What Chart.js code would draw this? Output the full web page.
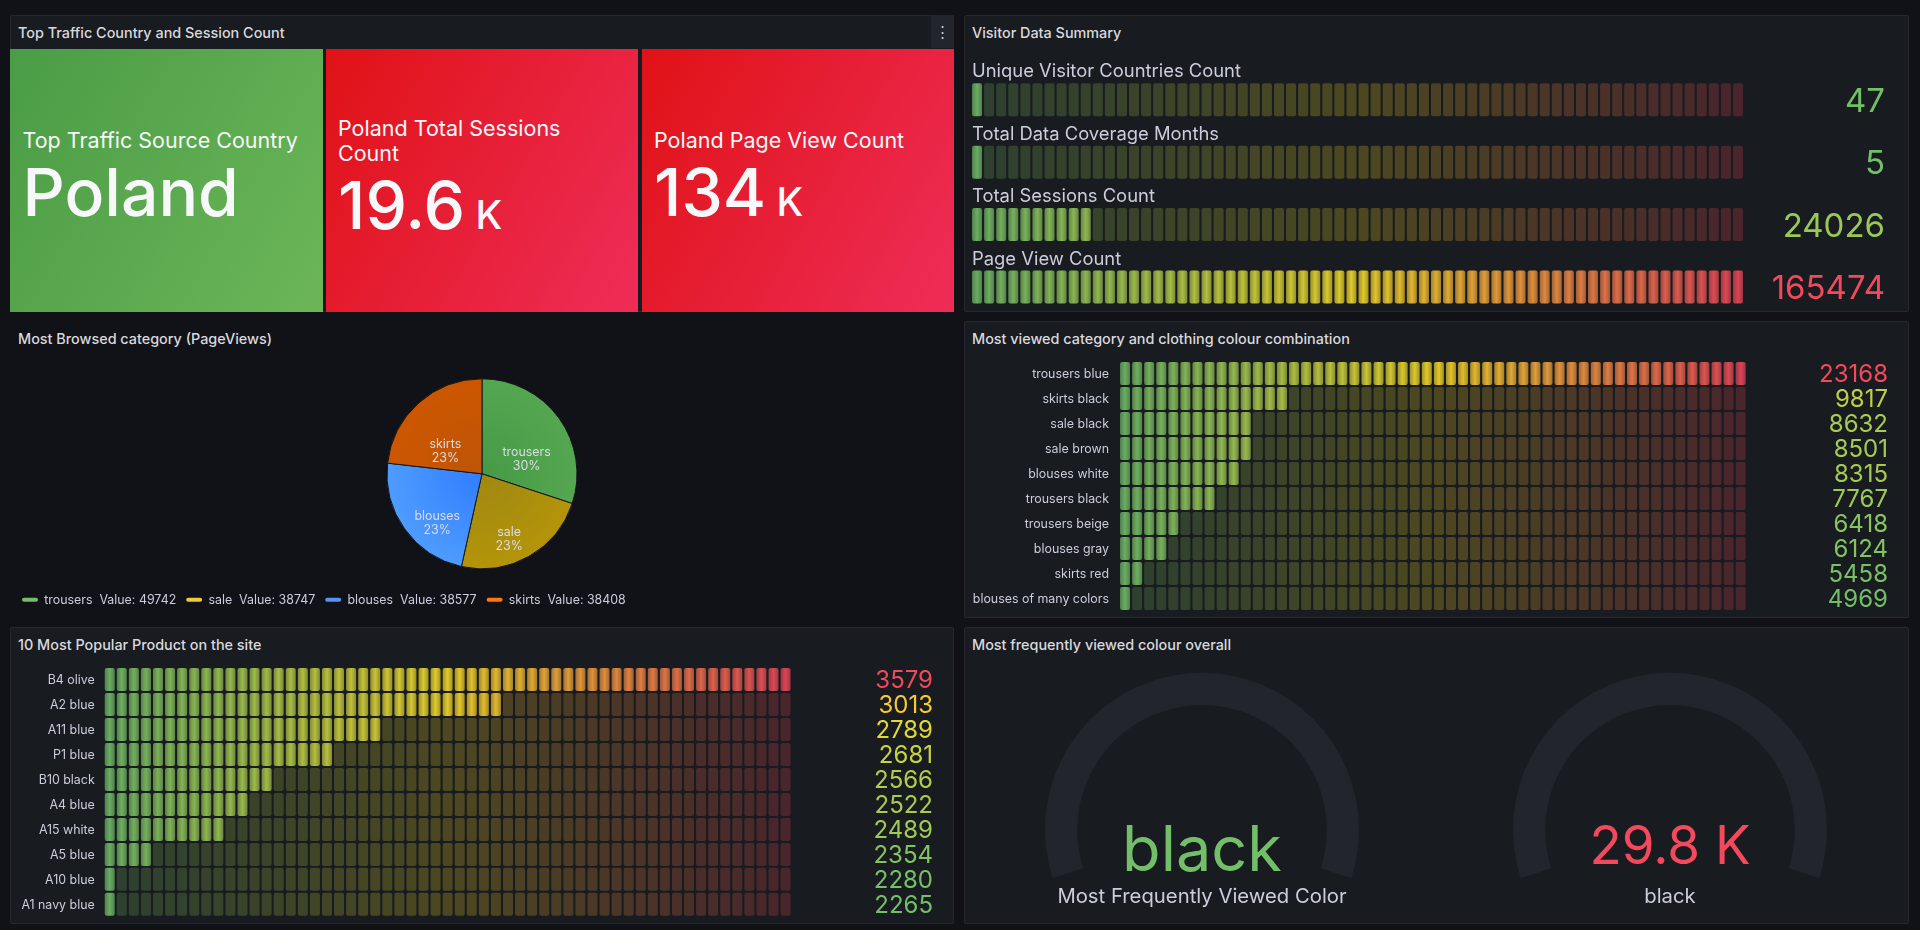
<!DOCTYPE html>
<html>
<head>
<meta charset="utf-8">
<title>Visitor dashboard</title>
<script src="https://cdn.jsdelivr.net/npm/chart.js@4/dist/chart.umd.min.js"></script>
<style>
  html, body { margin: 0; width: 1920px; height: 930px; overflow: hidden; background: #111217; font-family: Inter, sans-serif; color: #ccccdc; }
  .panel { position: absolute; box-sizing: border-box; background: #181b1f; border: 1px solid #26282d; border-radius: 2px; }
  .title { position: absolute; font-size: 14.4px; font-weight: 500; line-height: 0; color: #d8d9de; white-space: nowrap; }
  .tile { position: absolute; top: 48.5px; height: 263.5px; color: #f7f8fa; }
  .green { background: linear-gradient(120deg, #4a9c46, #6cb658); }
  .red { background: linear-gradient(120deg, #e01216, #ee2d58); }
  .tile div { position: absolute; line-height: 0; white-space: nowrap; }
  .name { font-size: 21.5px; }
  .big { font-size: 66px; font-weight: 500; }
  .big span { font-size: 39px; }
  .menu { position: absolute; left: 931px; top: 15px; width: 23px; height: 33px; background: #22252b; color: #ccccdc; text-align: center; font-size: 15px; line-height: 33px; }
  canvas { position: absolute; }
</style>
</head>
<body>
<div class="panel" style="left:10px;top:15px;width:944px;height:297px"></div>
<div class="panel" style="left:964px;top:15px;width:945px;height:297px"></div>
<div class="panel" style="left:964px;top:321px;width:945px;height:297px"></div>
<div class="panel" style="left:10px;top:627px;width:944px;height:297px"></div>
<div class="panel" style="left:964px;top:627px;width:945px;height:297px"></div>

<div class="title" style="left:18px;top:32.5px">Top Traffic Country and Session Count</div>
<div class="title" style="left:972px;top:32.5px">Visitor Data Summary</div>
<div class="title" style="left:18px;top:338.5px">Most Browsed category (PageViews)</div>
<div class="title" style="left:972px;top:338.5px">Most viewed category and clothing colour combination</div>
<div class="title" style="left:18px;top:644.5px">10 Most Popular Product on the site</div>
<div class="title" style="left:972px;top:644.5px">Most frequently viewed colour overall</div>
<div class="menu">&#8942;</div>

<div class="tile green" style="left:10px;width:312.5px">
  <div class="name" style="left:12.5px;top:91.5px">Top Traffic Source Country</div>
  <div class="big" style="left:12.5px;top:143.5px">Poland</div>
</div>
<div class="tile red" style="left:325.5px;width:312.5px">
  <div class="name" style="left:12.5px;top:79.5px">Poland Total Sessions</div>
  <div class="name" style="left:12.5px;top:104.5px">Count</div>
  <div class="big" style="left:12.5px;top:156.5px">19.6<span> K</span></div>
</div>
<div class="tile red" style="left:641.5px;width:312.5px">
  <div class="name" style="left:12.5px;top:91.5px">Poland Page View Count</div>
  <div class="big" style="left:12.5px;top:143.5px">134<span> K</span></div>
</div>

<script>
// values
const visitorLabels = ['Unique Visitor Countries Count', 'Total Data Coverage Months', 'Total Sessions Count', 'Page View Count'];
const visitorValues = [47, 5, 24026, 165474];

const comboLabels = ['trousers blue', 'skirts black', 'sale black', 'sale brown', 'blouses white', 'trousers black', 'trousers beige', 'blouses gray', 'skirts red', 'blouses of many colors'];
const comboValues = [23168, 9817, 8632, 8501, 8315, 7767, 6418, 6124, 5458, 4969];

const productLabels = ['B4 olive', 'A2 blue', 'A11 blue', 'P1 blue', 'B10 black', 'A4 blue', 'A15 white', 'A5 blue', 'A10 blue', 'A1 navy blue'];
const productValues = [3579, 3013, 2789, 2681, 2566, 2522, 2489, 2354, 2280, 2265];

const pieLabels = ['trousers', 'sale', 'blouses', 'skirts'];
const pieValues = [49742, 38747, 38577, 38408];

const gaugeValue = [29800];

const FONT = 'Inter, sans-serif';
const GREEN = [115, 191, 105], YELLOW = [250, 222, 42], RED = [242, 73, 92];

function colorAt(t) {
  const from = t < 0.5 ? GREEN : YELLOW;
  const to = t < 0.5 ? YELLOW : RED;
  const k = t < 0.5 ? t * 2 : (t - 0.5) * 2;
  return from.map((c, i) => Math.round(c + (to[i] - c) * k));
}
const rgba = (c, a) => `rgba(${c[0]},${c[1]},${c[2]},${a})`;

function addCanvas(x, y, w, h) {
  const canvas = document.createElement('canvas');
  canvas.width = w;
  canvas.height = h;
  canvas.style.left = x + 'px';
  canvas.style.top = y + 'px';
  document.body.appendChild(canvas);
  return canvas.getContext('2d');
}

// LCD style gauge: one floating bar dataset per cell, lit up to the row's value
function barGauge(cfg) {
  const { rect, plot, labels, values, min, max, cells, axisWidth = 0, tickPad = 0, valueSize, valueRight, labelAbove } = cfg;
  const [x, y, w, h] = rect;
  const step = (max - min) / cells;
  const gap = step * 0.085;

  const datasets = [];
  for (let i = 0; i < cells; i++) {
    const lo = min + step * i + gap;
    const hi = min + step * (i + 1) - gap;
    const rgb = colorAt(i / (cells - 1));
    datasets.push({
      data: labels.map(() => [lo, hi]),
      grouped: false,
      barThickness: cfg.barHeight,
      borderRadius: 2,
      borderSkipped: false,
      inflateAmount: 0,
      backgroundColor: (ctx) => {
        const v = values[ctx.dataIndex];
        const lit = Math.max(1, Math.ceil((v - min) / (max - min) * cells));
        if (i >= lit) return rgba(rgb, 0.23);
        const s = ctx.chart.scales.x;
        const x0 = s ? s.getPixelForValue(lo) : NaN;
        const x1 = s ? s.getPixelForValue(hi) : NaN;
        if (!Number.isFinite(x0) || !Number.isFinite(x1)) return rgba(rgb, 0.8);
        const g = ctx.chart.ctx.createLinearGradient(x0, 0, x1, 0);
        g.addColorStop(0, rgba(rgb, 0.62));
        g.addColorStop(0.5, rgba(rgb, 0.9));
        g.addColorStop(1, rgba(rgb, 0.62));
        return g;
      }
    });
  }

  const rowText = {
    id: 'rowText',
    afterDatasetsDraw(chart) {
      const c = chart.ctx;
      const ys = chart.scales.y;
      c.save();
      values.forEach((v, i) => {
        const cy = ys.getPixelForValue(i);
        c.textAlign = 'right';
        c.textBaseline = 'alphabetic';
        c.font = `${valueSize}px ${FONT}`;
        c.fillStyle = rgba(colorAt((v - min) / (max - min)), 1);
        c.fillText(String(v), valueRight - x, cy + valueSize * 0.364);
        if (labelAbove) {
          c.textAlign = 'left';
          c.font = `18.4px ${FONT}`;
          c.fillStyle = '#ccccdc';
          c.fillText(labels[i], plot[0] + 1 - x, cy - cfg.barHeight / 2 - 6);
        }
      });
      c.restore();
    }
  };

  new Chart(addCanvas(x, y, w, h), {
    type: 'bar',
    data: { labels, datasets },
    plugins: [rowText],
    options: {
      indexAxis: 'y',
      responsive: false,
      animation: false,
      events: [],
      layout: {
        padding: {
          left: plot[0] - x - axisWidth,
          top: plot[1] - y,
          right: x + w - plot[2],
          bottom: y + h - plot[3]
        }
      },
      plugins: { legend: { display: false }, tooltip: { enabled: false } },
      scales: {
        x: { type: 'linear', min, max, display: false },
        y: {
          display: !labelAbove,
          afterFit: (s) => { s.width = axisWidth; s.paddingTop = 0; s.paddingBottom = 0; },
          grid: { display: false, drawTicks: false },
          border: { display: false },
          ticks: { padding: tickPad, labelOffset: 1, color: '#ccccdc', font: { family: FONT, size: 12.4 }, autoSkip: false }
        }
      }
    }
  });
}

barGauge({
  rect: [964, 15, 945, 320], plot: [971, 68.6, 1744, 318.2],
  labels: visitorLabels, values: visitorValues, min: 0, max: 165474, cells: 64,
  barHeight: 33, valueSize: 33, valueRight: 1885, labelAbove: true
});
barGauge({
  rect: [964, 325, 945, 300], plot: [1119, 361.1, 1746.7, 610.9],
  labels: comboLabels, values: comboValues, min: 4969, max: 23168, cells: 52,
  barHeight: 23, axisWidth: 150, tickPad: 10, valueSize: 24, valueRight: 1888
});
barGauge({
  rect: [10, 630, 944, 298], plot: [103.7, 667.1, 791.6, 916.8],
  labels: productLabels, values: productValues, min: 2265, max: 3579, cells: 57,
  barHeight: 23, axisWidth: 90, tickPad: 9, valueSize: 24, valueRight: 933
});

// pie
const pieInner = ['#469a46', '#9f8812', '#307cff', '#be5508'];
const pieOuter = ['#55a650', '#b49408', '#4e9cff', '#cd5600'];
const legendColors = ['#73BF69', '#EBCB3A', '#5794F2', '#FF780A'];

const pieText = {
  id: 'pieText',
  afterDatasetsDraw(chart) {
    const c = chart.ctx;
    const total = pieValues.reduce((a, b) => a + b, 0);
    c.save();
    c.font = `12.4px ${FONT}`;
    c.fillStyle = '#dcdce4';
    c.textAlign = 'center';
    c.textBaseline = 'middle';
    chart.getDatasetMeta(0).data.forEach((arc, i) => {
      const a = (arc.startAngle + arc.endAngle) / 2;
      const px = arc.x + Math.cos(a) * 55;
      const py = arc.y + Math.sin(a) * 55 + 18;
      c.fillText(pieLabels[i], px, py - 7);
      c.fillText(Math.round(pieValues[i] / total * 100) + '%', px, py + 7);
    });
    c.restore();
  }
};

new Chart(addCanvas(10, 321, 944, 297), {
  type: 'pie',
  data: {
    labels: pieLabels,
    datasets: [{
      data: pieValues,
      borderColor: '#14161a',
      borderWidth: 1,
      backgroundColor: (ctx) => {
        const area = ctx.chart.chartArea;
        if (!area) return pieOuter[ctx.dataIndex];
        const cx = (area.left + area.right) / 2;
        const cy = (area.top + area.bottom) / 2;
        const g = ctx.chart.ctx.createRadialGradient(cx, cy, 0, cx, cy, 95);
        g.addColorStop(0, pieInner[ctx.dataIndex]);
        g.addColorStop(1, pieOuter[ctx.dataIndex]);
        return g;
      }
    }]
  },
  plugins: [pieText],
  options: {
    responsive: false,
    animation: false,
    events: [],
    radius: 95,
    layout: { padding: { left: 2, right: 2, top: 43, bottom: 2 } },
    plugins: {
      tooltip: { enabled: false },
      legend: {
        position: 'bottom',
        align: 'start',
        labels: {
          boxWidth: 16,
          boxHeight: 4,
          padding: 10,
          useBorderRadius: true,
          borderRadius: 2,
          color: '#ccccdc',
          font: { family: FONT, size: 12.4 },
          generateLabels: () => pieLabels.map((name, i) => ({
            text: `${name}  Value: ${pieValues[i]}`,
            fillStyle: legendColors[i],
            strokeStyle: legendColors[i],
            fontColor: '#ccccdc',
            lineWidth: 0,
            borderRadius: 2,
            index: i
          }))
        }
      }
    }
  }
});

// gauges: only the empty track is visible in the reference
function gauge(x, text, size, baseline, color, caption) {
  const gaugeText = {
    id: 'gaugeText',
    afterDatasetsDraw(chart) {
      const c = chart.ctx;
      c.save();
      c.textAlign = 'center';
      c.textBaseline = 'alphabetic';
      c.font = `${size}px ${FONT}`;
      c.fillStyle = color;
      c.fillText(text, 200, baseline - 627);
      c.font = `20.3px ${FONT}`;
      c.fillStyle = '#ccccdc';
      c.fillText(caption, 200, 903 - 627);
      c.restore();
    }
  };
  new Chart(addCanvas(x - 200, 627, 400, 297), {
    type: 'doughnut',
    data: { labels: [caption], datasets: [{ data: gaugeValue, backgroundColor: '#22252b', borderWidth: 0 }] },
    plugins: [gaugeText],
    options: {
      responsive: false,
      animation: false,
      events: [],
      rotation: -108,
      circumference: 216,
      radius: 157,
      cutout: 118,
      plugins: { legend: { display: false }, tooltip: { enabled: false } }
    }
  });
}

gauge(1202, 'black', 63, 870.7, '#73BF69', 'Most Frequently Viewed Color');
gauge(1670, '29.8 K', 53, 864, '#F2495C', 'black');
</script>
</body>
</html>
